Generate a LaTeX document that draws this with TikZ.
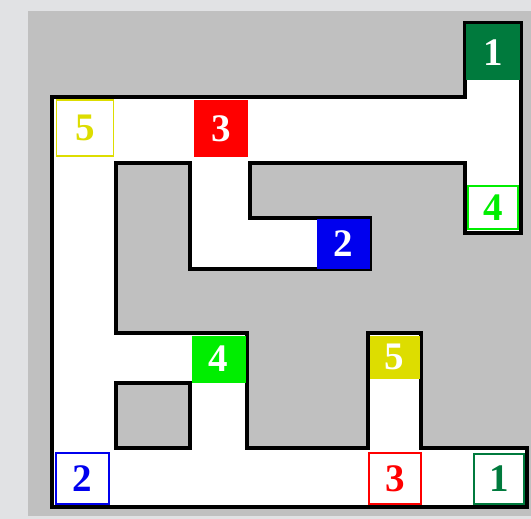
\documentclass[tikz,border=0pt]{standalone}
\usepackage{fontspec}
\setmainfont{Liberation Serif}
\definecolor{PageGrey}{RGB}{225,226,228}
\definecolor{BoardGrey}{RGB}{192,192,192}
\definecolor{TileGreen}{RGB}{0,122,61}
\definecolor{TileLime}{RGB}{0,238,0}
\definecolor{TileRed}{RGB}{255,0,0}
\definecolor{TileBlue}{RGB}{0,0,238}
\definecolor{TileYellow}{RGB}{221,221,0}
\tikzset{
  wall/.style={draw=black,line width=3.4pt,line join=miter},
  tile/.style={rectangle,inner sep=0pt,font=\fontsize{39}{41}\selectfont\bfseries},
  solidtile/.style={tile,fill=#1,text=white},
  ringtile/.style={tile,fill=white,draw=#1,text=#1,line width=1.9pt},
}

\begin{document}
\begin{tikzpicture}[x=1pt,y=-1pt]
  \useasboundingbox (0,0) rectangle (531,519);
  \fill[PageGrey] (0,0) rectangle (531,519);
  \fill[BoardGrey] (28,11) rectangle (531,516);
  % the corridors, with the little block left as a hole
  \filldraw[fill=white,wall,even odd rule]
    (52,97) -- (465,97) -- (465,23) -- (521,23) -- (521,233) -- (465,233)
    -- (465,163) -- (250,163) -- (250,218) -- (370,218) -- (370,269)
    -- (190,269) -- (190,163) -- (116,163) -- (116,333) -- (247,333)
    -- (247,448) -- (368,448) -- (368,333) -- (421,333) -- (421,448)
    -- (527,448) -- (527,507) -- (52,507) -- cycle
    (116,383) rectangle (190,448);
  % filled tiles
  \node[solidtile=TileGreen,minimum width=54pt,minimum height=56pt] (g1) at (493,52.5) {1};
  \node[solidtile=TileRed,minimum width=54pt,minimum height=57pt] (r3) at (221,128.5) {3};
  \node[solidtile=TileBlue,minimum width=53pt,minimum height=50pt] (b2) at (343,244) {2};
  \node[solidtile=TileLime,minimum width=54pt,minimum height=47pt] (l4) at (218.5,359) {4};
  \node[solidtile=TileYellow,minimum width=50pt,minimum height=43pt] (y5) at (394.5,357) {5};
  % outlined tiles
  \node[ringtile=TileYellow,minimum width=57pt,minimum height=56pt] (y5o) at (85,128) {5};
  \node[ringtile=TileLime,minimum width=50pt,minimum height=43pt] (l4o) at (493,207.5) {4};
  \node[ringtile=TileBlue,minimum width=53pt,minimum height=51pt] (b2o) at (82.5,478.5) {2};
  \node[ringtile=TileRed,minimum width=52pt,minimum height=51pt] (r3o) at (395,478.5) {3};
  \node[ringtile=TileGreen,minimum width=50pt,minimum height=50pt] (g1o) at (499,479) {1};
\end{tikzpicture}
\end{document}
